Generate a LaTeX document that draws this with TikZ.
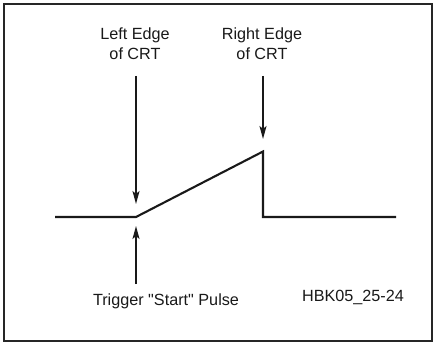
\documentclass[tikz,border=0pt]{standalone}
\usepackage{fontspec}
\setmainfont{Liberation Sans}[Ligatures=TeXOff]
\usetikzlibrary{arrows.meta}
\begin{document}
\begin{tikzpicture}[x=1pt,y=-1pt,
  lbl/.style={font=\fontsize{16.2}{20}\selectfont, align=center, inner sep=0pt, text=black!90},
  wave/.style={line width=2.1pt, color=black!90, line join=miter},
  arr/.style={line width=1.9pt, color=black!90, -{Stealth[length=13pt,width=7pt,inset=3pt]}},
  frame/.style={line width=2pt, color=black!85}]
\useasboundingbox (0,0) rectangle (435,344);
\draw[frame] (4,4) rectangle (432,341);
% labels
\node[lbl] (lefttxt) at (135,44) {Left Edge\\of CRT};
\node[lbl] (righttxt) at (262,44) {Right Edge\\of CRT};
\node[lbl] (trig) at (166,301) {Trigger "Start" Pulse};
\node[lbl] (hbk) at (353,297) {HBK05\_25-24};
% waveform points
\coordinate (w0) at (55,217);
\coordinate (w1) at (136,217);
\coordinate (w2) at (263,151.5);
\coordinate (w3) at (263,217);
\coordinate (w4) at (396,217);
\draw[wave] (w0) -- (w1) -- (w2) -- (w3) -- (w4);
% arrows
\coordinate (la) at (136,76);
\coordinate (lb) at (136,204);
\coordinate (ra) at (263,76);
\coordinate (rb) at (263,139);
\coordinate (ta) at (136,284);
\coordinate (tb) at (136,226);
\draw[arr] (la) -- (lb);
\draw[arr] (ra) -- (rb);
\draw[arr] (ta) -- (tb);
\end{tikzpicture}
\end{document}
